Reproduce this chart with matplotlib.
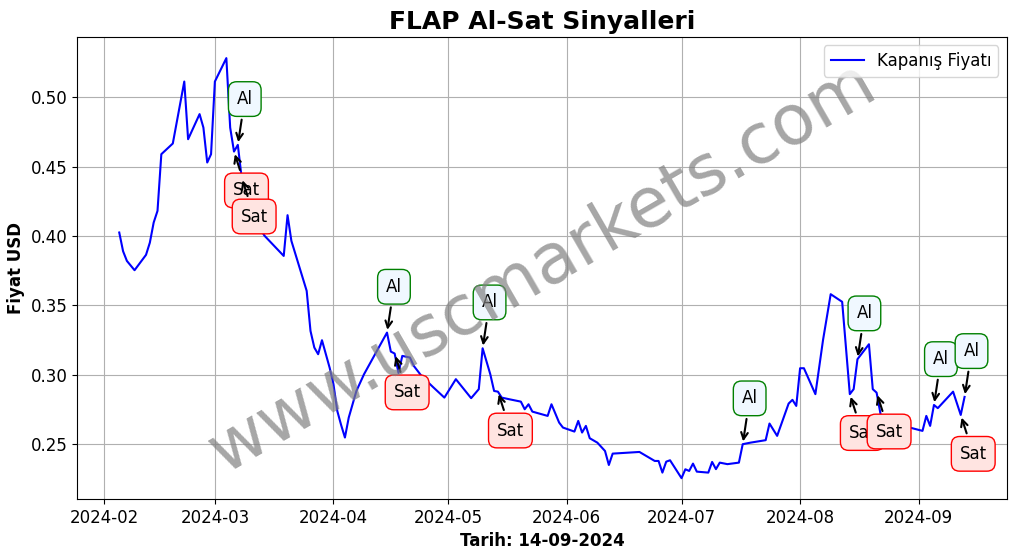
import pandas as pd
import numpy as np
import matplotlib
matplotlib.use("Agg")
import matplotlib.pyplot as plt
import matplotlib.dates as mdates

# FLAP closing prices
dates = ['2024-02-05', '2024-02-06', '2024-02-07', '2024-02-09', '2024-02-12', '2024-02-13',
         '2024-02-14', '2024-02-15', '2024-02-16', '2024-02-19', '2024-02-22', '2024-02-23',
         '2024-02-26', '2024-02-27', '2024-02-28', '2024-02-29', '2024-03-01', '2024-03-04',
         '2024-03-05', '2024-03-06', '2024-03-07', '2024-03-08', '2024-03-09', '2024-03-10',
         '2024-03-11', '2024-03-12', '2024-03-14', '2024-03-19', '2024-03-20', '2024-03-21',
         '2024-03-25', '2024-03-26', '2024-03-27', '2024-03-28', '2024-03-29', '2024-03-31',
         '2024-04-01', '2024-04-02', '2024-04-03', '2024-04-04', '2024-04-05', '2024-04-07',
         '2024-04-09', '2024-04-15', '2024-04-16', '2024-04-17', '2024-04-18', '2024-04-19',
         '2024-04-21', '2024-04-22', '2024-04-24', '2024-04-27', '2024-04-30', '2024-05-03',
         '2024-05-07', '2024-05-09', '2024-05-10', '2024-05-12', '2024-05-13', '2024-05-14',
         '2024-05-15', '2024-05-17', '2024-05-20', '2024-05-21', '2024-05-22', '2024-05-23',
         '2024-05-27', '2024-05-28', '2024-05-30', '2024-05-31', '2024-06-03', '2024-06-04',
         '2024-06-05', '2024-06-06', '2024-06-07', '2024-06-09', '2024-06-11', '2024-06-12',
         '2024-06-13', '2024-06-20', '2024-06-24', '2024-06-25', '2024-06-26', '2024-06-27',
         '2024-06-28', '2024-07-01', '2024-07-02', '2024-07-03', '2024-07-04', '2024-07-05',
         '2024-07-08', '2024-07-09', '2024-07-10', '2024-07-11', '2024-07-13', '2024-07-16',
         '2024-07-17', '2024-07-19', '2024-07-23', '2024-07-24', '2024-07-26', '2024-07-29',
         '2024-07-30', '2024-07-31', '2024-08-01', '2024-08-02', '2024-08-05', '2024-08-07',
         '2024-08-09', '2024-08-12', '2024-08-14', '2024-08-15', '2024-08-16', '2024-08-19',
         '2024-08-20', '2024-08-21', '2024-08-22', '2024-08-23', '2024-08-25', '2024-08-27',
         '2024-08-28', '2024-09-02', '2024-09-03', '2024-09-04', '2024-09-05', '2024-09-06',
         '2024-09-10', '2024-09-12', '2024-09-13']
prices = [0.4025, 0.389, 0.382, 0.3753, 0.3864, 0.3952,
          0.4097, 0.4181, 0.459, 0.4667, 0.5114, 0.4698,
          0.4879, 0.4782, 0.453, 0.459, 0.5114, 0.5283,
          0.4782, 0.4609, 0.4657, 0.4421, 0.432, 0.42,
          0.4049, 0.4085, 0.4001, 0.3856, 0.415, 0.3965,
          0.3604, 0.3315, 0.3195, 0.3147, 0.3248, 0.305,
          0.2931, 0.2738, 0.2637, 0.2546, 0.269, 0.2882,
          0.3003, 0.3303, 0.3166, 0.3152, 0.3012, 0.3135,
          0.3123, 0.3063, 0.2991, 0.2911, 0.2834, 0.2967,
          0.283, 0.2895, 0.319, 0.3003, 0.2882, 0.2877,
          0.2834, 0.2822, 0.2805, 0.275, 0.2786, 0.2733,
          0.2702, 0.2786, 0.2654, 0.2618, 0.2589, 0.2666,
          0.2582, 0.263, 0.2541, 0.2509, 0.2449, 0.2348,
          0.243, 0.2442, 0.2377, 0.2377, 0.2293, 0.2372,
          0.2382, 0.2253, 0.2317, 0.2305, 0.2358, 0.23,
          0.2293, 0.237, 0.2318, 0.2365, 0.2354, 0.2365,
          0.2498, 0.2509, 0.2527, 0.2647, 0.2558, 0.2791,
          0.2818, 0.2774, 0.3046, 0.3046, 0.2859, 0.325,
          0.358, 0.3525, 0.2859, 0.2895, 0.3111, 0.3219,
          0.2895, 0.287, 0.272, 0.262, 0.2509, 0.248,
          0.263, 0.2594, 0.2702, 0.263, 0.2781, 0.2758,
          0.2877, 0.2709, 0.2839]

# signal dates
al_dates = ['2024-03-07', '2024-04-15', '2024-05-10', '2024-07-17', '2024-08-16', '2024-09-05', '2024-09-13']
sat_dates = ['2024-03-06', '2024-03-08', '2024-04-17', '2024-05-14', '2024-08-14', '2024-08-21', '2024-09-12']

df = pd.DataFrame({'date': pd.to_datetime(dates), 'close': prices}).set_index('date')

fig, ax = plt.subplots(figsize=(10.17, 5.54), dpi=100)
fig.subplots_adjust(left=0.0757, right=0.990, top=0.933, bottom=0.099)

ax.plot(df.index, df['close'], color='blue', lw=1.5, label='Kapanış Fiyatı')

for d in al_dates:
    d = pd.Timestamp(d)
    ax.annotate('Al', xy=(d, df.loc[d, 'close']), xytext=(5, 33), textcoords='offset points',
                ha='center', va='center', fontsize=12,
                bbox=dict(boxstyle='round,pad=0.5', fc='aliceblue', ec='green'),
                arrowprops=dict(arrowstyle='->', color='black', lw=1.5))

for d in sat_dates:
    d = pd.Timestamp(d)
    ax.annotate('Sat', xy=(d, df.loc[d, 'close']), xytext=(9, -28), textcoords='offset points',
                ha='center', va='center', fontsize=12,
                bbox=dict(boxstyle='round,pad=0.5', fc='mistyrose', ec='red'),
                arrowprops=dict(arrowstyle='->', color='black', lw=1.5))

ax.text(0.5, 0.5, 'www.uscmarkets.com', transform=ax.transAxes, fontsize=50,
        color='gray', alpha=0.7, rotation=30, ha='center', va='center')

ax.xaxis.set_major_locator(mdates.MonthLocator())
ax.xaxis.set_major_formatter(mdates.DateFormatter('%Y-%m'))
ax.tick_params(labelsize=12)

ax.set_title('FLAP Al-Sat Sinyalleri', fontsize=18, fontweight='bold')
ax.set_xlabel('Tarih: 14-09-2024', fontsize=12, fontweight='bold')
ax.set_ylabel('Fiyat USD', fontsize=12, fontweight='bold')
ax.legend(loc='upper right', fontsize=12)
ax.grid(True)

plt.savefig('out.png')
